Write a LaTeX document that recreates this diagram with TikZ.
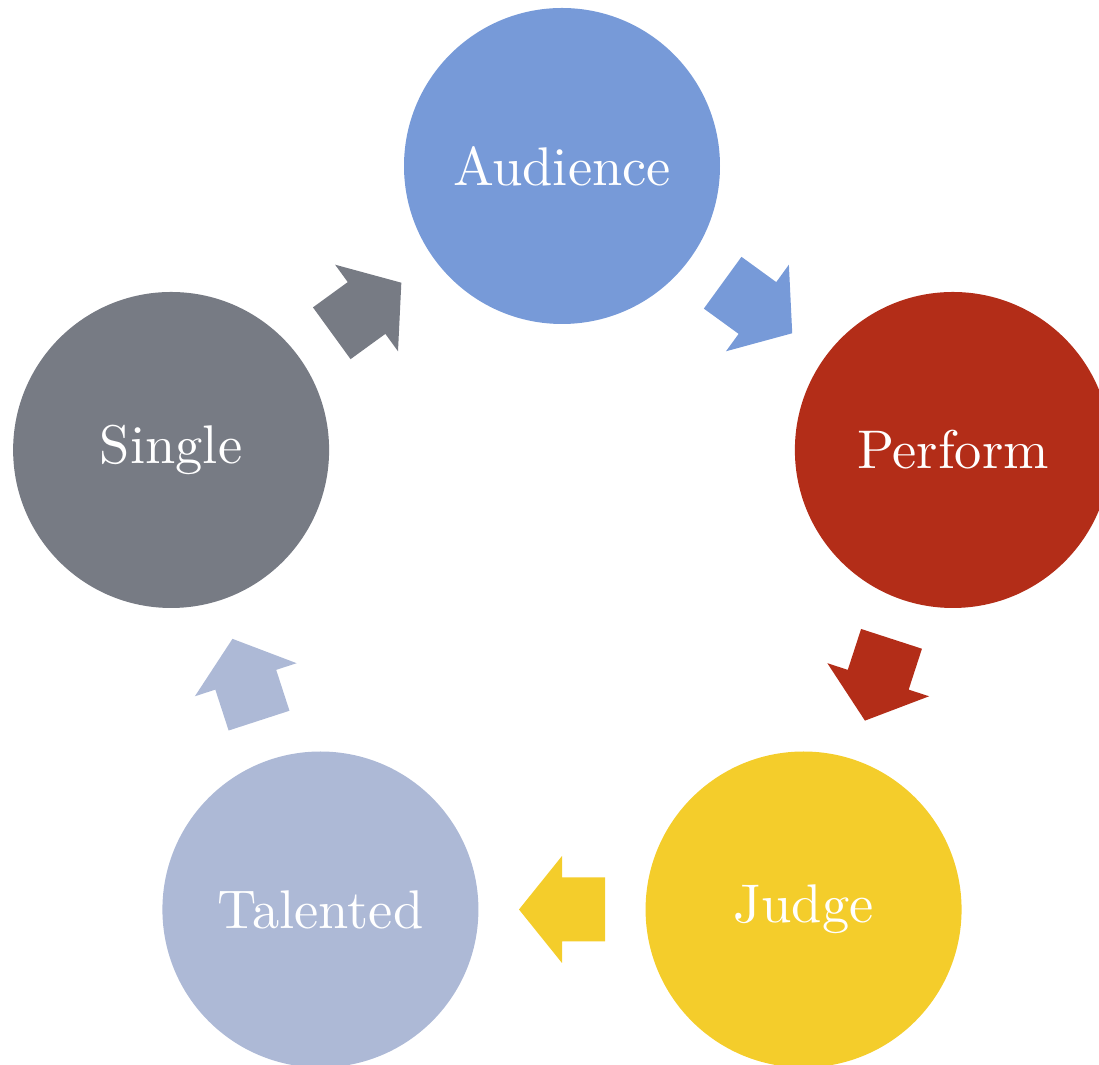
\documentclass[tikz,border=0pt]{standalone}
\usetikzlibrary{calc}
\definecolor{cAud}{RGB}{119,154,216}
\definecolor{cPerf}{RGB}{179,45,24}
\definecolor{cJudge}{RGB}{244,205,43}
\definecolor{cTal}{RGB}{173,185,214}
\definecolor{cSing}{RGB}{119,123,132}
\newcommand\stagetext[1]{\scalebox{1.55}{#1}}
\tikzset{
  stage/.style={circle, minimum size=3.16cm, inner sep=0pt, text=white,
    font=\fontsize{10}{12}\selectfont},
  blockarrow/.pic={
    \path[pic actions] (-0.43,-0.32) -- (0,-0.32) -- (0,-0.535) -- (0.43,0)
      -- (0,0.535) -- (0,0.32) -- (-0.43,0.32) -- cycle;
  }
}
\begin{document}
\begin{tikzpicture}
\useasboundingbox (0,0) rectangle (10.99,10.65);
\coordinate (O) at (5.62,4.88);
\node[stage, fill=cAud]   (A) at ($(O)+(90:4.11)$)   {\stagetext{Audience}};
\node[stage, fill=cPerf]  (P) at ($(O)+(18:4.11)$)   {\stagetext{Perform}};
\node[stage, fill=cJudge] (J) at ($(O)+(-54:4.11)$)  {\stagetext{Judge}};
\node[stage, fill=cTal]   (T) at ($(O)+(-126:4.11)$) {\stagetext{Talented}};
\node[stage, fill=cSing]  (S) at ($(O)+(162:4.11)$)  {\stagetext{Single}};
\pic[fill=cAud, rotate=-36]   at ($(A)!0.5!(P)$) {blockarrow};
\pic[fill=cPerf, rotate=-108] at ($(P)!0.5!(J)$) {blockarrow};
\pic[fill=cJudge, rotate=180] at ($(J)!0.5!(T)$) {blockarrow};
\pic[fill=cTal, rotate=108]   at ($(T)!0.5!(S)$) {blockarrow};
\pic[fill=cSing, rotate=36]   at ($(S)!0.5!(A)$) {blockarrow};
\end{tikzpicture}
\end{document}
